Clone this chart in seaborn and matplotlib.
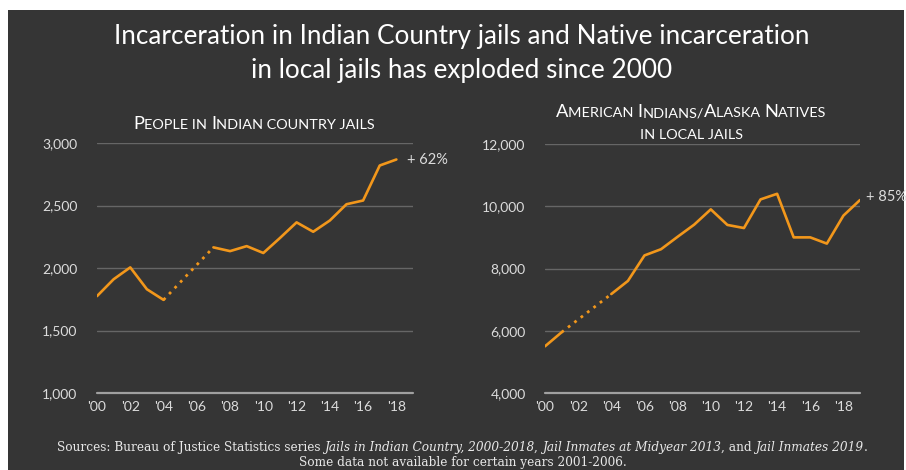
import matplotlib
matplotlib.use("Agg")
import matplotlib.pyplot as plt
import seaborn as sns
import pandas as pd
from matplotlib.patches import Rectangle

# ---------------- data ----------------
ic_years_a = [2000, 2001, 2002, 2003, 2004]
ic_vals_a = [1775, 1910, 2005, 1830, 1745]
ic_years_b = [2007, 2008, 2009, 2010, 2011, 2012, 2013, 2014, 2015, 2016, 2017, 2018]
ic_vals_b = [2165, 2135, 2175, 2120, 2240, 2365, 2290, 2380, 2510, 2540, 2820, 2868]

ai_years_a = [2000, 2001]
ai_vals_a = [5500, 5950]
ai_years_b = [2004, 2005, 2006, 2007, 2008, 2009, 2010, 2011, 2012, 2013, 2014,
              2015, 2016, 2017, 2018, 2019]
ai_vals_b = [7180, 7600, 8420, 8620, 9020, 9410, 9900, 9400, 9300, 10220, 10400,
             9000, 9000, 8800, 9700, 10200]

left_yticks = [1000, 1500, 2000, 2500, 3000]
right_yticks = [4000, 6000, 8000, 10000, 12000]
xtick_years = list(range(2000, 2019, 2))
xtick_labels = ["'00", "'02", "'04", "'06", "'08", "'10", "'12", "'14", "'16", "'18"]

title_lines = ["Incarceration in Indian Country jails and Native incarceration",
               "in local jails has exploded since 2000"]
left_sub = "People in Indian country jails"
right_sub = ["American Indians/Alaska Natives", "in local jails"]
left_note = "+ 62%"
right_note = "+ 85%"

# ---------------- style ----------------
BG = "#353535"
ORANGE = "#F2971B"
GRID = "#666666"
BASE = "#a0a0a0"
TXT = "#dcdcdc"
W, H = 906, 470

sns.set_theme(style="dark")
plt.rcParams['font.family'] = ['Lato', 'DejaVu Sans']

fig = plt.figure(figsize=(W / 100, H / 100), dpi=100)
fig.patch.set_facecolor("white")
fig.patches.append(Rectangle((8 / W, 0), (W - 10) / W, (H - 10) / H,
                             transform=fig.transFigure, facecolor=BG,
                             edgecolor="none", zorder=-10))


def fx(px):
    return px / W


def fy(py):
    return 1 - py / H


axL = fig.add_axes([fx(97), fy(393), 316 / W, 250 / H])
axR = fig.add_axes([fx(545), fy(393), 315 / W, 249 / H])


def style_axis(ax, yticks, ylim):
    ax.set_facecolor("none")
    for s in ax.spines.values():
        s.set_visible(False)
    ax.set_xlim(2000, 2019)
    ax.set_ylim(*ylim)
    ax.set_yticks(yticks)
    ax.set_yticklabels([f"{v:,}" for v in yticks])
    ax.set_xticks(xtick_years)
    ax.set_xticklabels(xtick_labels)
    ax.tick_params(axis="both", length=0, colors=TXT, labelsize=10)
    ax.tick_params(axis="y", pad=14)
    ax.tick_params(axis="x", pad=6)
    ax.grid(False)
    for v in yticks[1:]:
        ax.axhline(v, color=GRID, lw=1.0, zorder=1)
    ax.axhline(yticks[0], color=BASE, lw=1.6, zorder=1, clip_on=False)
    ax.set_xlabel("")
    ax.set_ylabel("")


def draw_series(ax, ya, va, yb, vb):
    da = pd.DataFrame({"year": ya, "v": va})
    db = pd.DataFrame({"year": yb, "v": vb})
    dg = pd.DataFrame({"year": [ya[-1], yb[0]], "v": [va[-1], vb[0]]})
    sns.lineplot(data=da, x="year", y="v", ax=ax, color=ORANGE, lw=1.9, zorder=3)
    sns.lineplot(data=db, x="year", y="v", ax=ax, color=ORANGE, lw=1.9, zorder=3)
    sns.lineplot(data=dg, x="year", y="v", ax=ax, color=ORANGE, lw=2.0, zorder=3,
                 linestyle=(0, (1, 1.9)))


draw_series(axL, ic_years_a, ic_vals_a, ic_years_b, ic_vals_b)
draw_series(axR, ai_years_a, ai_vals_a, ai_years_b, ai_vals_b)
style_axis(axL, left_yticks, (1000, 3000))
style_axis(axR, right_yticks, (4000, 12000))

axL.annotate(left_note, xy=(ic_years_b[-1], ic_vals_b[-1]), xytext=(8, 0),
             textcoords="offset points", color=TXT, fontsize=10.5, va="center",
             annotation_clip=False)
axR.annotate(right_note, xy=(ai_years_b[-1], ai_vals_b[-1]), xytext=(4, 2.5),
             textcoords="offset points", color=TXT, fontsize=10.5, va="center",
             annotation_clip=False)

# ---------------- titles ----------------
for i, line in enumerate(title_lines):
    fig.text(fx(462), fy(44 + i * 34), line, ha="center", va="baseline",
             color="white", fontsize=18.8, family=['Lato', 'DejaVu Sans'])

renderer = fig.canvas.get_renderer()


def draw_runs(runs, cx, base_y, fit_width=None, **common):
    """runs: list of (text, dict of props). Laid out left-to-right, centered at cx px."""
    texts = []
    for s, props in runs:
        kw = dict(common)
        kw.update(props)
        t = fig.text(0, fy(base_y), s, ha="left", va="baseline", **kw)
        texts.append(t)
    widths = [t.get_window_extent(renderer).width for t in texts]
    if fit_width:
        k = fit_width / sum(widths)
        for t in texts:
            t.set_fontsize(t.get_fontsize() * k)
        widths = [t.get_window_extent(renderer).width for t in texts]
    total = sum(widths)
    x = cx - total / 2
    for t, w in zip(texts, widths):
        t.set_x(fx(x))
        x += w
    return texts


def smallcaps_runs(s, big, small):
    runs = []
    for ch in s:
        if ch.isupper():
            runs.append((ch, {"fontsize": big}))
        elif ch.isalpha():
            runs.append((ch.upper(), {"fontsize": small}))
        else:
            runs.append((ch, {"fontsize": small}))
    merged = []
    for s2, p in runs:
        if merged and merged[-1][1]["fontsize"] == p["fontsize"]:
            merged[-1] = (merged[-1][0] + s2, p)
        else:
            merged.append((s2, p))
    return merged


draw_runs(smallcaps_runs(left_sub, 13.2, 10.4), 254, 129, color="white")
draw_runs(smallcaps_runs(right_sub[0], 13.2, 10.4), 691, 117, color="white")
draw_runs(smallcaps_runs(right_sub[1], 13.2, 10.4), 692, 139, color="white")

src_font = ['DejaVu Serif']
rom = {"style": "normal"}
ita = {"style": "italic"}
src1 = [("Sources: Bureau of Justice Statistics series ", rom),
        ("Jails in Indian Country, 2000-2018", ita),
        (", ", rom),
        ("Jail Inmates at Midyear 2013", ita),
        (", and ", rom),
        ("Jail Inmates 2019", ita),
        (".", rom)]
src2 = [("Some data not available for certain years 2001-2006.", rom)]
t1 = draw_runs(src1, 462, 451, fit_width=809, color="#e8e8e8", fontsize=8.5,
               family=src_font)
draw_runs(src2, 463, 466, color="#e8e8e8", fontsize=t1[0].get_fontsize(),
          family=src_font)

fig.savefig("out.png", dpi=100, facecolor=fig.get_facecolor())
